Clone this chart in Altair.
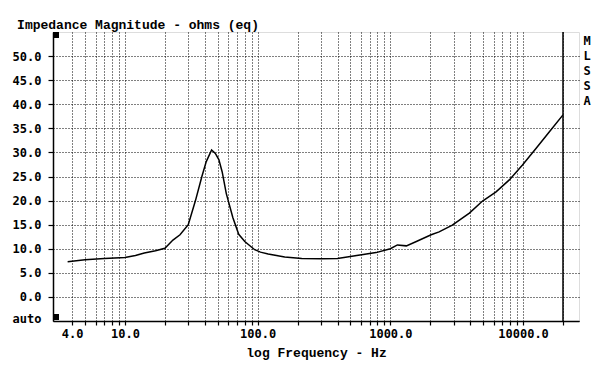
import altair as alt
import pandas as pd

# Impedance curve
freq = [3.7, 5, 7, 10, 12, 14, 17, 20, 23, 26, 30, 34, 38, 41, 45, 48, 51, 54, 58,
        65, 72, 80, 95, 105, 120, 160, 215, 300, 400, 590, 780, 1000, 1130, 1320,
        1570, 2030, 2330, 2930, 3940, 4950, 6260, 7880, 9900, 12600, 15800, 20000]
ohms = [7.3, 7.7, 8.0, 8.2, 8.6, 9.1, 9.6, 10.1, 11.8, 12.9, 15.0, 20.0, 25.0, 28.1,
        30.5, 29.8, 28.5, 26.0, 21.5, 16.5, 13.0, 11.5, 9.8, 9.3, 8.9, 8.3, 8.0, 7.9,
        8.0, 8.7, 9.2, 10.0, 10.8, 10.6, 11.5, 12.9, 13.5, 14.9, 17.4, 19.9, 21.8,
        24.3, 27.4, 30.9, 34.3, 37.8]

x_grid = [4, 5, 6, 7, 8, 9, 10, 20, 30, 40, 50, 60, 70, 80, 90, 100,
          200, 300, 400, 500, 600, 700, 800, 900, 1000,
          2000, 3000, 4000, 5000, 6000, 7000, 8000, 9000, 10000, 20000]
x_labels = [4, 10, 100, 1000, 10000]
y_ticks = [-5, 0, 5, 10, 15, 20, 25, 30, 35, 40, 45, 50]
x_domain = [2.87, 26400]
y_domain = [-5, 55]
marker_freq = [20000]
side_text = ["M", "L", "S", "S", "A"]

df = pd.DataFrame({"freq": freq, "ohms": ohms})

LBL = "DejaVu Sans Mono"
TTL = "Liberation Mono"

label_expr = ("indexof([" + ",".join(str(v) for v in x_labels) +
              "], datum.value) >= 0 ? format(datum.value, '.1f') : ''")

x_enc = alt.X(
    "freq:Q",
    scale=alt.Scale(type="log", domain=x_domain, nice=False, zero=False),
    axis=alt.Axis(
        values=x_grid, labelExpr=label_expr, labelOverlap=False, labelFlush=False,
        grid=True, gridDash=[1, 2], gridColor="#000000", gridWidth=1, gridOpacity=1,
        tickSize=4, tickColor="#000000", tickWidth=1.2,
        domain=True, domainColor="#000000", domainWidth=1.5,
        labelFont=LBL, labelFontSize=12, labelFontWeight="bold", labelColor="#000000",
        labelPadding=3,
        title="log Frequency - Hz", titleFont=TTL, titleFontSize=13,
        titleFontWeight="bold", titleColor="#000000", titlePadding=7,
    ),
)
y_enc = alt.Y(
    "ohms:Q",
    scale=alt.Scale(domain=y_domain, nice=False, zero=False),
    axis=alt.Axis(
        values=y_ticks,
        labelExpr="datum.value < 0 ? 'auto' : format(datum.value, '.1f')",
        labelOverlap=False, labelFlush=False,
        labelOffset={"condition": {"test": "datum.value < 0", "value": -3}, "value": 0},
        grid=True, gridDash=[1, 2], gridColor="#000000", gridWidth=1, gridOpacity=1,
        tickSize=5, tickColor="#000000", tickWidth=1.2,
        tickOpacity={"condition": {"test": "datum.value < 0", "value": 0}, "value": 1},
        domain=True, domainColor="#000000", domainWidth=1.5,
        labelFont=LBL, labelFontSize=12, labelFontWeight="bold", labelColor="#000000",
        labelPadding=7, title=None,
    ),
)

curve = alt.Chart(df).mark_line(color="#000000", strokeWidth=1.5).encode(x=x_enc, y=y_enc)

rule = alt.Chart(pd.DataFrame({"f": marker_freq})).mark_rule(
    color="#000000", strokeWidth=1.5
).encode(x=alt.X("f:Q"))

letters = alt.Chart(pd.DataFrame({"k": [0]})).mark_text(
    text=side_text, lineHeight=15, align="center", baseline="top",
    font=LBL, fontSize=12, fontWeight="bold", color="#000000",
).encode(x=alt.value(534), y=alt.value(4))

sq_top = alt.Chart(pd.DataFrame({"a": [1]})).mark_square(
    size=36, color="#000000", opacity=1, filled=True).encode(
    x=alt.value(3), y=alt.value(3))
sq_bot = alt.Chart(pd.DataFrame({"b": [2]})).mark_square(
    size=36, color="#000000", opacity=1, filled=True).encode(
    x=alt.value(3), y=alt.value(285))

chart = alt.layer(curve, rule, letters, sq_top, sq_bot).properties(
    width=526, height=289,
    padding={"left": 45, "top": 24, "right": 13, "bottom": 45},
    autosize=alt.AutoSizeParams(type="none"),
    title=alt.TitleParams(
        "Impedance Magnitude - ohms (eq)", anchor="start", font=TTL, fontSize=13,
        fontWeight="bold", color="#000000", offset=3, dx=5, dy=4,
    ),
).configure_view(stroke="#000000", strokeWidth=1.5).configure(background="white")

chart.save("out.html", embed_options={"renderer": "svg", "actions": False})
